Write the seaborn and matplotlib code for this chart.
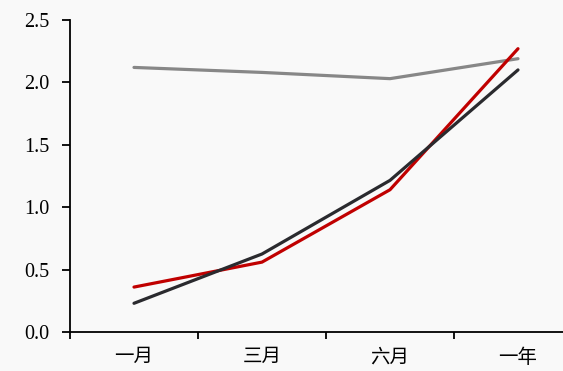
import pandas as pd
import matplotlib
matplotlib.use("Agg")
import matplotlib.pyplot as plt
import seaborn as sns

# Data
periods = ["一月", "三月", "六月", "一年"]
gray_vals = [2.12, 2.08, 2.03, 2.19]
red_vals = [0.36, 0.56, 1.14, 2.27]
dark_vals = [0.23, 0.625, 1.215, 2.10]

series_names = ["gray", "red", "dark"]
series_colors = {"gray": "#878787", "red": "#c00000", "dark": "#2a2a2e"}

df = pd.DataFrame({
    "period": periods * 3,
    "value": gray_vals + red_vals + dark_vals,
    "series": ["gray"] * 4 + ["red"] * 4 + ["dark"] * 4,
})

sns.set_style("ticks")
plt.rcParams["font.family"] = ["Liberation Serif", "Noto Sans CJK SC"]

fig = plt.figure(figsize=(5.63, 3.71), dpi=100)
fig.patch.set_facecolor("#f9f9f9")
ax = fig.add_axes([70 / 563, 39 / 371, 512 / 563, 312 / 371])
ax.set_facecolor("#f9f9f9")

sns.lineplot(data=df, x="period", y="value", hue="series", hue_order=series_names,
             palette=series_colors, linewidth=2.3, sort=False, legend=False, ax=ax)

ax.set_xlim(-0.5, 3.5)
ax.set_ylim(0, 2.5)
ax.set_yticks([0, 0.5, 1.0, 1.5, 2.0, 2.5])
ax.set_yticklabels(["0.0", "0.5", "1.0", "1.5", "2.0", "2.5"])
ax.set_xticks(range(len(periods)))
ax.set_xticklabels(periods)
ax.set_xticks([-0.5, 0.5, 1.5, 2.5, 3.5], minor=True)
ax.set_xlabel("")
ax.set_ylabel("")

ax.tick_params(axis="x", which="major", length=0, pad=12, labelsize=14, colors="black")
ax.tick_params(axis="x", which="minor", length=5, width=1.3, direction="out", color="black")
ax.tick_params(axis="y", length=6, width=1.3, direction="out", pad=9, labelsize=14.5, colors="black")

for side in ["top", "right"]:
    ax.spines[side].set_visible(False)
for side in ["left", "bottom"]:
    ax.spines[side].set_linewidth(1.3)
    ax.spines[side].set_color("black")

plt.savefig("out.png", dpi=100, facecolor=fig.get_facecolor())
